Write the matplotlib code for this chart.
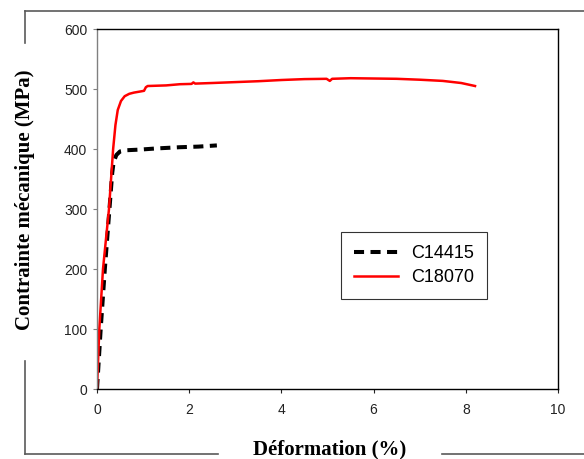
import matplotlib.pyplot as plt
from matplotlib.lines import Line2D

# strain (%) / stress (MPa) curves
strain_c14415 = [0, 0.08, 0.17, 0.27, 0.33, 0.36, 0.42, 0.5, 0.65, 0.93, 1.3, 1.8, 2.2, 2.6]
stress_c14415 = [0, 100, 200, 300, 360, 378, 390, 396, 398, 399, 401, 403, 404, 406]

strain_c18070 = [0, 0.05, 0.13, 0.26, 0.35, 0.40, 0.45, 0.52, 0.6, 0.7, 0.8, 0.95, 1.02,
                 1.06, 1.1, 1.5, 1.8, 2.05, 2.09, 2.13, 2.5, 3.0, 3.5, 4.0, 4.5, 4.98,
                 5.05, 5.1, 5.5, 6.0, 6.5, 7.0, 7.5, 7.9, 8.2]
stress_c18070 = [0, 100, 200, 300, 400, 440, 465, 480, 488, 492, 494, 496, 497,
                 503, 505, 506, 508, 508.5, 511, 509, 510, 511.5, 513, 515, 516.5, 517,
                 513.5, 517, 518, 517.5, 517, 515.5, 513.5, 510, 505]

x_ticks = [0, 2, 4, 6, 8, 10]
y_ticks = [0, 100, 200, 300, 400, 500, 600]

fig = plt.figure(figsize=(5.84, 4.59), dpi=100)
ax = fig.add_axes([0.1661, 0.1525, 0.7894, 0.7843])

ax.plot(strain_c14415, stress_c14415, color="black", lw=2.9,
        linestyle=(0, (2.5, 1.6)), label="C14415")
ax.plot(strain_c18070, stress_c18070, color="#ff0000", lw=1.8, label="C18070")

ax.set_xlim(0, 10)
ax.set_ylim(0, 600)
ax.set_xticks(x_ticks)
ax.set_yticks(y_ticks)
ax.tick_params(direction="out", length=3, width=0.8, labelsize=10, colors="#222222")
ax.tick_params(axis="x", pad=7)
ax.tick_params(axis="y", pad=4, color="#808080")
for lab in ax.get_xticklabels() + ax.get_yticklabels():
    lab.set_family("Liberation Sans")
for s in ["top", "right", "bottom"]:
    ax.spines[s].set_color("black")
    ax.spines[s].set_linewidth(1.0)
ax.spines["left"].set_color("#808080")
ax.spines["left"].set_linewidth(1.0)

# legend box: top-left corner at pixel (341, 232)
leg = ax.legend(loc="upper left", bbox_to_anchor=((341 - 97) / 461, (389 - 232) / 360),
                borderaxespad=0, frameon=True, fancybox=False, handlelength=2.43,
                prop={"family": "Liberation Sans", "size": 13}, borderpad=0.72,
                labelspacing=0.4, handletextpad=0.73)
leg.get_frame().set_edgecolor("black")
leg.get_frame().set_linewidth(0.8)

# axis titles
fig.text(330 / 584, 1 - 449 / 459, "Déformation (%)", ha="center", va="center",
         family="Liberation Serif", weight="bold", fontsize=15)
fig.text(25 / 584, 1 - 200 / 459, "Contrainte mécanique (MPa)", ha="center", va="center",
         rotation=90, family="Liberation Serif", weight="bold", fontsize=15)

# outer chart border, broken around the titles
W, H = 584.0, 459.0
frame = dict(color="#5a5a5a", lw=1.2, transform=fig.transFigure)
segs = [((25, 11), (584, 11)),
        ((25, 11), (25, 43)),
        ((25, 361), (25, 454)),
        ((25, 454), (218, 454)),
        ((442, 454), (584, 454))]
for (x0, y0), (x1, y1) in segs:
    fig.add_artist(Line2D([x0 / W, x1 / W], [1 - y0 / H, 1 - y1 / H], **frame))

plt.savefig("out.png", dpi=100)
